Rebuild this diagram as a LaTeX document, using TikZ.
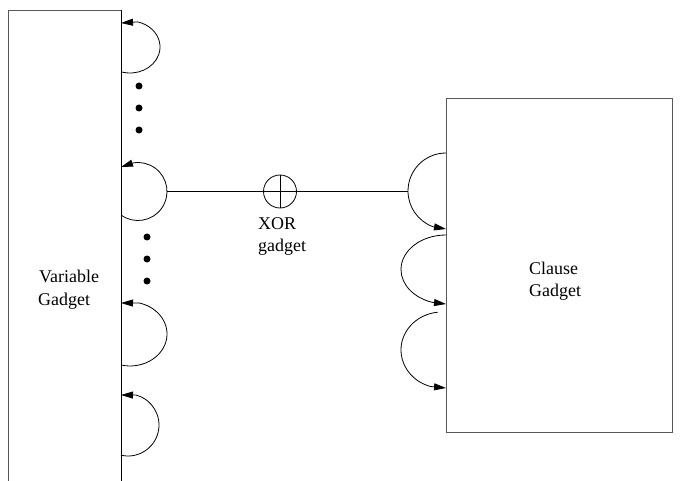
\documentclass[tikz,border=0pt]{standalone}
\usepackage{fontspec}
\setmainfont{Liberation Serif}
\usetikzlibrary{arrows.meta,calc}
\begin{document}
\begin{tikzpicture}[x=1bp,y=1bp,yscale=-1,
  loopline/.style={line width=0.8bp,-{Triangle[length=12bp,width=7bp]}},
  wall/.style={line width=0.9bp},
  boxline/.style={line width=0.9bp,draw=black!65},
  conn/.style={line width=0.8bp},
  dot/.style={circle,fill=black,inner sep=0pt,minimum size=7bp},
  lbl/.style={inner sep=0pt,anchor=base west,font=\fontsize{18}{23}\selectfont}]
\useasboundingbox (0,0) rectangle (682,481);
% variable gadget (open at the bottom)
\draw[boxline] (8,481) -- (8,10) -- (121,10);
\draw[wall] (121,10) -- (121,481);
\node[lbl] (vt1) at (39,282) {Variable};
\node[lbl] (vt2) at (38,305) {Gadget};
% loops on the variable gadget
\draw[loopline] (121,71.8) arc[start angle=107.5,end angle=-75,x radius=30,y radius=26] -- (121,23);
\draw[loopline] (121,215) arc[start angle=125.9,end angle=-100,radius=29] -- (121,167);
\draw[loopline] (121,365) arc[start angle=104.1,end angle=-75,x radius=37,y radius=32] -- (121,303);
\draw[loopline] (121,455.2) arc[start angle=103.05,end angle=-75,radius=31] -- (121,395);
\coordinate (v2r) at (167,191.5);
% dots
\node[dot] (d1) at (139,86) {};
\node[dot] (d2) at (139,108) {};
\node[dot] (d3) at (139,130) {};
\node[dot] (d4) at (147,237) {};
\node[dot] (d5) at (147,259) {};
\node[dot] (d6) at (147,281) {};
% XOR gadget
\node[circle,draw,line width=0.8bp,minimum size=33bp,inner sep=0pt,
  path picture={\draw[line width=0.8bp] (path picture bounding box.north) -- (path picture bounding box.south)
   (path picture bounding box.west) -- (path picture bounding box.east);}] (xor) at (280,191.5) {};
\node[lbl] (xt1) at (258,230) {XOR};
\node[lbl] (xt2) at (258,252) {gadget};
% clause gadget
\node[boxline,draw,minimum width=226bp,minimum height=334bp,inner sep=0pt] (clause) at (559,265) {};
\node[lbl] (ct1) at (529,274) {Clause};
\node[lbl] (ct2) at (529,296) {Gadget};
\draw[loopline] (446,153) arc[start angle=-90,end angle=-250,radius=38] -- (446,229);
\coordinate (cAl) at (408,191.5);
\draw[loopline] (446,235) arc[start angle=-90,end angle=-252,x radius=45,y radius=34.5] -- (446,304);
\draw[loopline] (437.7,312.2) arc[start angle=-96,end angle=-254,x radius=41,y radius=38] -- (446,388);
% connectors
\draw[conn] (v2r) -- (xor);
\draw[conn] (xor) -- (cAl);
\end{tikzpicture}
\end{document}
